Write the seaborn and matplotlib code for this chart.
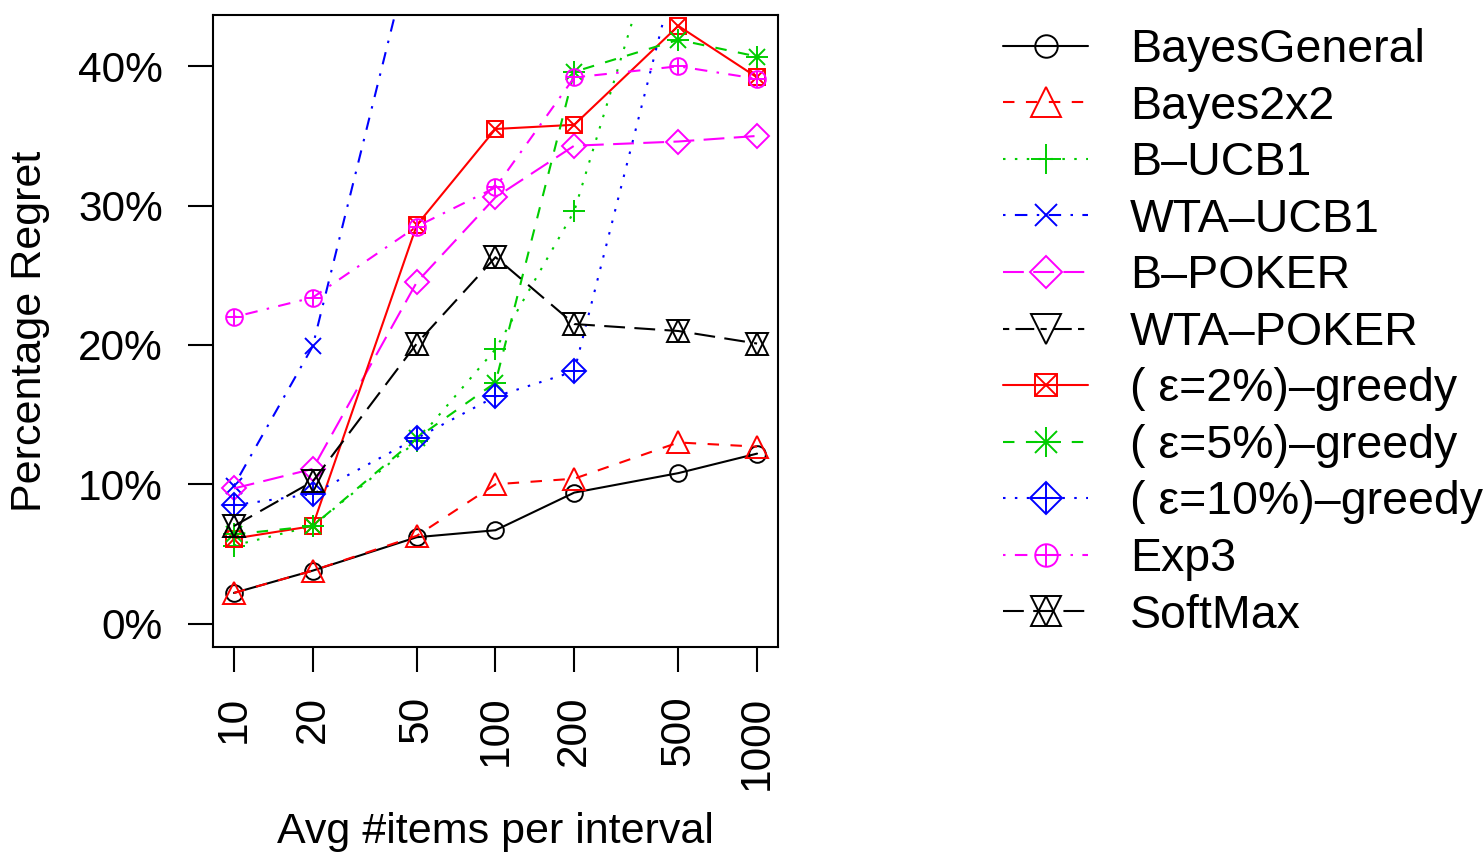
import matplotlib
matplotlib.use("Agg")
import matplotlib.pyplot as plt
import seaborn as sns
from matplotlib.lines import Line2D
from matplotlib.legend_handler import HandlerTuple
from matplotlib.ticker import FixedLocator, NullLocator, FixedFormatter

# ---------------- data (percent regret) ----------------
items = [10, 20, 50, 100, 200, 500, 1000]
tick_labels = ["10", "20", "50", "100", "200", "500", "1000"]
y_ticks = [0, 10, 20, 30, 40]
y_tick_labels = ["0%", "10%", "20%", "30%", "40%"]

bayes_general = [2.2, 3.8, 6.2, 6.7, 9.4, 10.8, 12.2]
bayes_2x2 = [2.2, 3.8, 6.3, 10.0, 10.4, 13.0, 12.7]
b_ucb1 = [5.6, 7.0, 13.1, 19.7, 29.6, 54.0, 58.0]
wta_ucb1 = [9.9, 19.9, 50.0, 56.0, 60.0, 64.0, 68.0]
b_poker = [9.7, 11.1, 24.5, 30.6, 34.3, 34.6, 35.0]
wta_poker = [48.0, 52.0, 56.0, 60.0, 62.0, 64.0, 66.0]
eps2 = [6.1, 7.0, 28.6, 35.5, 35.8, 42.9, 39.2]
eps5 = [6.4, 7.0, 13.3, 17.3, 39.6, 41.9, 40.7]
eps10 = [8.5, 9.3, 13.3, 16.3, 18.1, 47.5, 50.0]
exp3 = [22.0, 23.4, 28.5, 31.3, 39.2, 40.0, 39.1]
softmax = [7.0, 10.2, 20.1, 26.3, 21.5, 21.0, 20.1]

names = ["BayesGeneral", "Bayes2x2", "B\u2013UCB1", "WTA\u2013UCB1", "B\u2013POKER",
         "WTA\u2013POKER", "( \u03b5=2%)\u2013greedy", "( \u03b5=5%)\u2013greedy",
         "( \u03b5=10%)\u2013greedy", "Exp3", "SoftMax"]
series = [bayes_general, bayes_2x2, b_ucb1, wta_ucb1, b_poker, wta_poker,
          eps2, eps5, eps10, exp3, softmax]

# ---------------- styles ----------------
BLACK, RED, GREEN, BLUE, MAG = "#000000", "#FF0000", "#00CD00", "#0000FF", "#FF00FF"
colors = [BLACK, RED, GREEN, BLUE, MAG, BLACK, RED, GREEN, BLUE, MAG, BLACK]
solid = "-"
dashed = (0, (5.5, 5.5))
dotted = (0, (1.2, 4.5))
dotdash = (0, (1.2, 4.5, 6, 4.5))
longdash = (0, (10, 4.5))
twodash = (0, (3, 3, 9, 3))
styles = [solid, dashed, dotted, dotdash, longdash, twodash,
          solid, dashed, dotted, dotdash, longdash]
# (base marker, size), (overlay marker, size)
base_m = [("o", 12), ("^", 16), ("+", 16.5), ("x", 12), ("D", 12), ("v", 16),
          ("s", 12), ("+", 16.5), ("D", 12), ("o", 12), ("^", 15.5)]
over_m = [None, None, None, None, None, None,
          ("x", 12), ("x", 12), ("+", 16.5), ("+", 12), ("v", 15.5)]

sns.set_style("ticks")
plt.rcParams["font.family"] = ["Liberation Sans", "DejaVu Sans"]
plt.rcParams["text.color"] = "black"
plt.rcParams["axes.labelcolor"] = "black"
plt.rcParams["xtick.color"] = "black"
plt.rcParams["ytick.color"] = "black"

W, H = 1483, 852
fig = plt.figure(figsize=(W / 100, H / 100), dpi=100)
ax = fig.add_axes([213 / W, 1 - 647 / H, (778 - 213) / W, (647 - 15) / H])

LW = 1.5
MEW = 1.4
handles = []
for name, vals, c, ls, bm, om in zip(names, series, colors, styles, base_m, over_m):
    sns.lineplot(x=items, y=vals, ax=ax, color=c, linestyle=ls, linewidth=LW,
                 marker=bm[0], markersize=bm[1], markerfacecolor="none",
                 markeredgecolor=c, markeredgewidth=MEW, errorbar=None,
                 legend=False, sort=False)
    h_line = Line2D([], [], color=c, linestyle=ls, linewidth=LW, marker=bm[0],
                    markersize=bm[1], markerfacecolor="none", markeredgecolor=c,
                    markeredgewidth=MEW)
    if om is not None:
        sns.lineplot(x=items, y=vals, ax=ax, color=c, linestyle="none",
                     marker=om[0], markersize=om[1], markerfacecolor="none",
                     markeredgecolor=c, markeredgewidth=MEW, errorbar=None,
                     legend=False, sort=False)
        h_over = Line2D([], [], color=c, linestyle="none", marker=om[0],
                        markersize=om[1], markerfacecolor="none",
                        markeredgecolor=c, markeredgewidth=MEW)
        handles.append((h_line, h_over))
    else:
        handles.append(h_line)

ax.set_xscale("log")
ax.set_xlim(10 ** 0.92, 10 ** 3.08)
ax.set_ylim(-1.68, 43.68)
ax.xaxis.set_major_locator(FixedLocator(items))
ax.xaxis.set_major_formatter(FixedFormatter(tick_labels))
ax.xaxis.set_minor_locator(NullLocator())
ax.yaxis.set_major_locator(FixedLocator(y_ticks))
ax.yaxis.set_major_formatter(FixedFormatter(y_tick_labels))

ax.tick_params(axis="both", direction="out", length=18, width=1.5, color="black",
               labelsize=30.5, labelcolor="black")
ax.tick_params(axis="x", labelrotation=90, pad=17)
ax.tick_params(axis="y", pad=18)
for sp in ax.spines.values():
    sp.set_visible(True)
    sp.set_linewidth(1.5)
    sp.set_color("black")

ax.set_xlabel("Avg #items per interval", fontsize=31, labelpad=16)
ax.set_ylabel("Percentage Regret", fontsize=31, labelpad=20)

fig.legend(handles, names, loc="upper left", bbox_to_anchor=(1003 / W, 1 - 28 / H),
           frameon=False, fontsize=33.5, handlelength=1.83, handletextpad=0.9,
           labelspacing=0.27, borderaxespad=0, borderpad=0, markerscale=1.35,
           handler_map={tuple: HandlerTuple(ndivide=1)})

fig.savefig("out.png", dpi=100)
